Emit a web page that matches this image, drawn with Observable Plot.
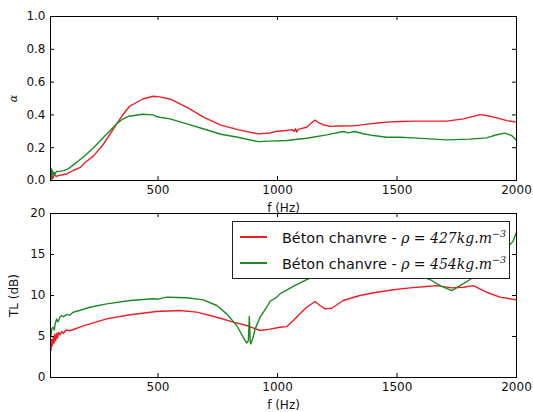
<!DOCTYPE html>
<html><head><meta charset="utf-8">
<script src="https://cdn.jsdelivr.net/npm/d3@7"></script>
<script src="https://cdn.jsdelivr.net/npm/@observablehq/plot@0.6"></script>
<style>
body{margin:0;background:#fff;}
#wrap{position:relative;width:533px;height:412px;font-family:"DejaVu Sans";}
#toppanel,#bottompanel{position:absolute;left:0;}
#toppanel{top:0;} #bottompanel{top:212px;}
#legend{position:absolute;left:232px;top:221px;width:276px;height:56px;background:#fff;border:1px solid #222;}
.sw{position:absolute;left:7px;width:27px;height:0;border-top:2px solid;}
.lt{position:absolute;left:49px;font-size:14.4px;line-height:18px;white-space:nowrap;color:#111;}
.m{font-family:"DejaVu Serif";font-style:italic;font-size:14px;}
.m sup{font-size:9.5px;vertical-align:6px;font-style:italic;}
</style></head>
<body><div id="wrap"><div id="toppanel"></div><div id="bottompanel"></div>
<div id="legend">
 <div class="sw" style="top:14px;border-color:#ee1c24"></div>
 <div class="lt" style="top:3px">Béton chanvre - <span class="m">ρ = 427kg.m<sup>−3</sup></span></div>
 <div class="sw" style="top:40px;border-color:#1c8a24"></div>
 <div class="lt" style="top:29px">Béton chanvre - <span class="m">ρ = 454kg.m<sup>−3</sup></span></div>
</div></div>
<script>
const xTicks = [500, 1000, 1500, 2000];
const alphaTicks = [0, 0.2, 0.4, 0.6, 0.8, 1.0];
const tlTicks = [0, 5, 10, 15, 20];
const seriesNames = ["Béton chanvre - ρ=427kg.m^-3", "Béton chanvre - ρ=454kg.m^-3"];

// absorption coefficient alpha, rho = 427
const fA427 = [52,55,58,62,68,75,83,100,118,145,175,195,230,266,300,330,350,379,436,480,507,550,621,692,763,834,919,969,997,1038,1060,1070,1075,1080,1085,1094,1122,1145,1157,1170,1190,1220,1260,1317,1387,1429,1457,1513,1568,1708,1778,1847,1880,1917,1960,2000];
const vA427 = [0.0,0.065,0.01,0.02,0.035,0.025,0.03,0.035,0.04,0.061,0.08,0.11,0.15,0.21,0.285,0.352,0.395,0.45,0.497,0.514,0.51,0.497,0.446,0.385,0.338,0.31,0.284,0.29,0.30,0.305,0.31,0.30,0.315,0.295,0.31,0.315,0.325,0.355,0.368,0.355,0.34,0.33,0.332,0.333,0.345,0.352,0.356,0.36,0.362,0.362,0.376,0.402,0.395,0.382,0.365,0.356];
// absorption coefficient alpha, rho = 454
const fA454 = [52,54,56,58,62,66,69,75,90,105,124,150,195,230,266,300,330,350,379,436,480,494,507,550,621,692,763,834,919,969,1038,1122,1206,1275,1296,1324,1359,1401,1457,1513,1568,1708,1806,1875,1917,1952,1980,2000];
const vA454 = [0.03,0.07,0.02,0.06,0.035,0.05,0.04,0.055,0.057,0.06,0.071,0.1,0.152,0.2,0.254,0.305,0.35,0.372,0.392,0.404,0.40,0.39,0.386,0.376,0.345,0.314,0.282,0.264,0.237,0.24,0.244,0.258,0.278,0.299,0.29,0.299,0.285,0.274,0.264,0.264,0.26,0.248,0.252,0.26,0.279,0.289,0.274,0.244];
// transmission loss TL (dB), rho = 427
const fT427 = [52,55,58,62,65,68,72,76,79,84,90,97,104,115,132,187,285,383,494,592,662,746,815,871,927,969,1010,1038,1066,1094,1122,1157,1178,1199,1227,1275,1345,1415,1485,1555,1624,1666,1729,1778,1819,1875,1931,2000];
const vT427 = [3.3,4.6,3.9,5.0,4.2,5.3,4.5,5.4,4.8,5.5,5.2,5.6,5.4,5.8,5.7,6.3,7.15,7.65,8.05,8.17,7.97,7.35,6.75,6.34,5.73,5.9,6.13,6.2,6.95,7.77,8.57,9.27,8.78,8.37,8.45,9.39,10.0,10.4,10.7,10.93,11.1,11.2,10.93,11.0,11.2,10.4,9.8,9.47];
// transmission loss TL (dB), rho = 454
const fT454 = [52,56,62,66,69,73,76,80,83,90,97,105,118,130,145,175,215,285,383,480,500,536,580,620,689,746,787,829,857,871,878,882,886,888,896,906,927,955,969,997,1010,1066,1122,1180,1260,1350,1450,1550,1638,1680,1729,1764,1806,1860,1920,1966,1985,2000];
const vT454 = [5.1,6.0,6.1,5.8,6.5,6.9,7.15,6.8,6.9,7.4,7.56,7.4,7.7,7.6,7.96,8.2,8.57,8.98,9.39,9.6,9.55,9.8,9.75,9.72,9.47,8.78,7.76,6.34,4.9,4.2,4.5,7.45,4.3,4.1,4.7,5.9,7.35,8.57,9.3,9.8,10.2,11.1,11.95,12.6,13.3,13.6,13.4,12.8,11.95,11.2,10.6,11.2,11.95,13.0,14.5,16.0,16.6,17.7];

const colors = ["#ee1c24", "#1c8a24"];
const zip = (fs, vs, s) => fs.map((f, i) => ({f, v: vs[i], s}));

function panel({height, marginTop, marginBottom, yDomain, yTicks, yFmt, yLabel, a, b}) {
  const ml = 50, mr = 17, W = 533;
  const pw = W - ml - mr, ph = height - marginTop - marginBottom;
  return Plot.plot({
    width: W, height, marginLeft: ml, marginRight: mr, marginTop, marginBottom,
    style: {fontFamily: "DejaVu Sans", fontSize: "12px", color: "#111", background: "transparent", overflow: "visible"},
    x: {domain: [50, 2000]},
    y: {domain: yDomain},
    marks: [
      Plot.line(a, {x: "f", y: "v", stroke: colors[0], strokeWidth: 1.4}),
      Plot.line(b, {x: "f", y: "v", stroke: colors[1], strokeWidth: 1.4}),
      Plot.tickX(xTicks, {x: d => d, insetTop: ph - 4, stroke: "#000"}),
      Plot.tickX(xTicks, {x: d => d, insetBottom: ph - 4, stroke: "#000"}),
      Plot.tickY(yTicks, {y: d => d, insetRight: pw - 4, stroke: "#000"}),
      Plot.tickY(yTicks, {y: d => d, insetLeft: pw - 4, stroke: "#000"}),
      Plot.frame({stroke: "#000"}),
      Plot.axisX(xTicks, {tickSize: 0, tickPadding: 5, tickFormat: d3.format("d"), label: "f (Hz)", labelAnchor: "center", labelArrow: "none", labelOffset: 31}),
      Plot.axisY(yTicks, {tickSize: 0, tickPadding: 5, tickFormat: yFmt, label: yLabel, labelAnchor: "center", labelArrow: "none", labelOffset: 41})
    ]
  });
}

const topChart = panel({height: 212, marginTop: 16, marginBottom: 32, yDomain: [0, 1], yTicks: alphaTicks, yFmt: d3.format(".1f"), yLabel: "α",
  a: zip(fA427, vA427, seriesNames[0]), b: zip(fA454, vA454, seriesNames[1])});
const botChart = panel({height: 200, marginTop: 1, marginBottom: 35, yDomain: [0, 20], yTicks: tlTicks, yFmt: d3.format("d"), yLabel: "TL (dB)",
  a: zip(fT427, vT427, seriesNames[0]), b: zip(fT454, vT454, seriesNames[1])});
document.getElementById("toppanel").appendChild(topChart);
document.getElementById("bottompanel").appendChild(botChart);
d3.select(topChart).selectAll('g[aria-label="y-axis label"] text').style("font-family", "DejaVu Serif").style("font-style", "italic").style("font-size", "11px");
</script></body></html>
